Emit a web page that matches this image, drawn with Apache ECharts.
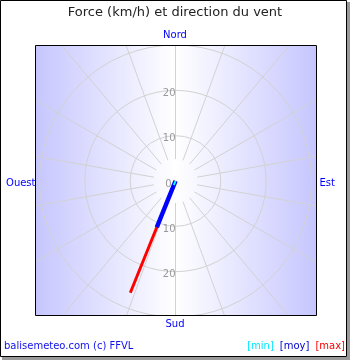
<!DOCTYPE html>
<html><head><meta charset="utf-8">
<script src="https://cdn.jsdelivr.net/npm/echarts@6/dist/echarts.min.js"></script>
<style>html,body{margin:0;padding:0;background:#fff}#c{width:350px;height:360px}</style>
</head><body><div id="c"></div><script>
// ---- data ----
const titleText = 'Force (km/h) et direction du vent';
const creditText = 'balisemeteo.com (c) FFVL';
const directionLabels = ['Nord', 'Est', 'Sud', 'Ouest'];
const seriesNames = ['[min]', '[moy]', '[max]'];
const windSpeeds = [1, 11, 26.6];   // km/h
const windDirection = 202;          // degrees, clockwise from north
const speedMin = 0, speedMax = 30, speedStep = 10;

// ---- styles ----
const seriesColors = ['#00ffff', '#0000ff', '#ff0000'];
const legendColors = ['#00e8ff', '#0000cc', '#ff0000'];
const lineWidths = [2, 4.5, 3];
const FONT = 'DejaVu Sans';
const gridColor = '#d2d2d2';
const CX = 175.5, CY = 181, R = 136;
const PL = 35, PT = 45, PR = 316, PB = 315;

const chart = echarts.init(document.getElementById('c'), null, {renderer: 'canvas'});

const hiddenAngle = (i) => ({polarIndex: i, type: 'value', min: 0, max: 360, startAngle: 90, clockwise: true,
  axisLine: {show: false}, axisTick: {show: false}, axisLabel: {show: false}, splitLine: {show: false}});
const radiusLabel = {fontFamily: FONT, fontSize: 10, color: '#999', margin: 0, align: 'right',
  verticalAlign: 'middle', formatter: (v) => (v === 0 ? '{z|' : '{a|') + v + '}',
  rich: {
    a: {fontFamily: FONT, fontSize: 10, color: '#999', padding: [6, 0, 0, 0]},
    z: {fontFamily: FONT, fontSize: 10, color: '#999', padding: [6, 4, 0, 0]}
  }};

const option = {
  animation: false,
  title: [
    {text: titleText, left: 'center', top: 1, textStyle: {fontFamily: FONT, fontSize: 13, fontWeight: 'normal', color: '#222'}},
    {text: creditText, left: 4, top: 341, padding: 0, textStyle: {fontFamily: FONT, fontSize: 10, fontWeight: 'normal', color: '#1010ee'}}
  ],
  legend: {
    right: 5, top: 341, padding: 0, itemGap: 1, itemWidth: 0, itemHeight: 0, selectedMode: false,
    icon: 'rect',
    data: seriesNames.map((n, i) => ({name: n, textStyle: {color: legendColors[i]}})),
    textStyle: {fontFamily: FONT, fontSize: 10}
  },
  polar: [
    {center: [CX, CY], radius: [22, 196]},   // spokes
    {center: [CX, CY], radius: R},           // rings + data + upward labels
    {center: [CX, CY], radius: R},           // downward labels
    {center: [175, 179.5], radius: R}        // direction labels
  ],
  angleAxis: [
    Object.assign(hiddenAngle(0), {interval: 20, splitLine: {show: true, lineStyle: {color: gridColor, width: 1}}}),
    hiddenAngle(1),
    Object.assign(hiddenAngle(2), {startAngle: 270}),
    Object.assign(hiddenAngle(3), {interval: 90, z: 10,
      axisLabel: {show: true, margin: 3.5, fontFamily: FONT, fontSize: 10, color: '#0000ff',
        formatter: (v) => v >= 360 ? '' : ({0: '{n|', 1: '{e|', 2: '{s|', 3: '{w|'}[v / 90] + directionLabels[v / 90] + '}'),
        rich: {
          n: {fontFamily: FONT, fontSize: 10, color: '#0000ff'},
          s: {fontFamily: FONT, fontSize: 10, color: '#0000ff'},
          e: {fontFamily: FONT, fontSize: 10, color: '#0000ff', padding: [8, 0, 0, 5]},
          w: {fontFamily: FONT, fontSize: 10, color: '#0000ff', padding: [8, 0, 0, 0]}
        }}})
  ],
  radiusAxis: [
    {polarIndex: 0, min: speedMin, max: speedMax, interval: speedStep, show: false},
    {polarIndex: 1, min: speedMin, max: speedMax, interval: speedStep,
      axisLine: {show: false}, axisTick: {show: false},
      splitLine: {show: true, lineStyle: {color: gridColor, width: 1}},
      axisLabel: Object.assign({show: true, showMaxLabel: false}, radiusLabel)},
    {polarIndex: 2, min: speedMin, max: speedMax, interval: speedStep,
      axisLine: {show: false}, axisTick: {show: false}, splitLine: {show: false},
      axisLabel: Object.assign({show: true, showMaxLabel: false, showMinLabel: false}, radiusLabel)},
    {polarIndex: 3, min: speedMin, max: speedMax, show: false}
  ],
  graphic: [
    // plot background
    {type: 'rect', z: -10, silent: true, shape: {x: PL, y: PT, width: PR - PL, height: PB - PT},
      style: {fill: new echarts.graphic.LinearGradient(0, 0, 1, 0, [
        {offset: 0, color: '#c6c6ff'}, {offset: 0.5, color: '#ffffff'}, {offset: 1, color: '#c6c6ff'}])}},
    // masks outside plot
    {type: 'rect', z: 1, silent: true, shape: {x: 0, y: 0, width: 350, height: PT}, style: {fill: '#fff'}},
    {type: 'rect', z: 1, silent: true, shape: {x: 0, y: PB, width: 350, height: 360 - PB}, style: {fill: '#fff'}},
    {type: 'rect', z: 1, silent: true, shape: {x: 0, y: 0, width: PL, height: 360}, style: {fill: '#fff'}},
    {type: 'rect', z: 1, silent: true, shape: {x: PR, y: 0, width: 350 - PR, height: 360}, style: {fill: '#fff'}},
    // plot border
    {type: 'rect', z: 3, silent: true, shape: {x: PL + 0.5, y: PT + 0.5, width: PR - PL, height: PB - PT},
      style: {fill: null, stroke: '#000', lineWidth: 1}},
    // frame + shadow
    {type: 'rect', z: 5, silent: true, shape: {x: 347, y: 2, width: 3, height: 358}, style: {fill: '#999'}},
    {type: 'rect', z: 5, silent: true, shape: {x: 2, y: 357, width: 348, height: 3}, style: {fill: '#999'}},
    {type: 'rect', z: 5, silent: true, shape: {x: 0.5, y: 0.5, width: 346, height: 356},
      style: {fill: null, stroke: '#000', lineWidth: 1}}
  ],
  series: [2, 1, 0].map((i) => ({
    type: 'line', name: seriesNames[i], coordinateSystem: 'polar', polarIndex: 1,
    data: [[0, windDirection], [windSpeeds[i], windDirection]],
    symbol: 'none', silent: true,
    lineStyle: {color: seriesColors[i], width: lineWidths[i]},
    itemStyle: {color: seriesColors[i]}
  }))
};
chart.setOption(option);
</script></body></html>
